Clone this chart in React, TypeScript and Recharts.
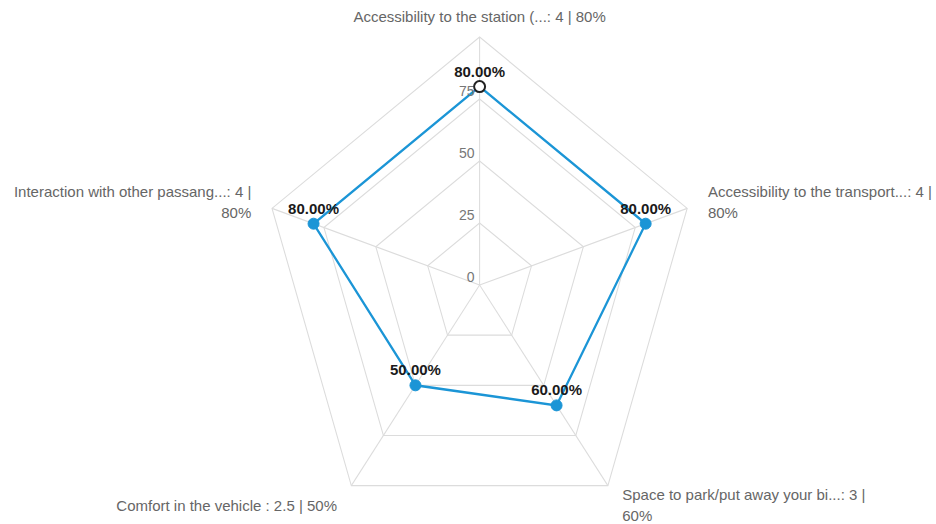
import { RadarChart, PolarGrid, PolarAngleAxis, PolarRadiusAxis, Radar } from 'recharts';

// labels are already cut short in the source chart
const categories = [
  'Accessibility to the station (...',
  'Accessibility to the transport...',
  'Space to park/put away your bi...',
  'Comfort in the vehicle ',
  'Interaction with other passang...',
];
const scores = [4, 4, 3, 2.5, 4];
const percents = [80, 80, 60, 50, 80];
const radialTicks = [0, 25, 50, 75, 100];

// the reference radar is squeezed horizontally, text is not
const SX = 0.88;
const W = 936;
const H = 524;
const FONT = '"Liberation Sans", Arial, sans-serif';
const BLUE = '#1b95d6';

const data = categories.map((name, i) => ({
  name,
  score: scores[i],
  pct: percents[i],
}));

function AngleTick(props: any) {
  const { x, y, cy, textAnchor, index } = props;
  const name = categories[index];
  const full = `${name}: ${scores[index]} | ${percents[index]}%`;
  const lines =
    textAnchor === 'middle' || full.length <= 36
      ? [full]
      : [`${name}: ${scores[index]} |`, `${percents[index]}%`];
  const dx = textAnchor === 'start' ? 4 : textAnchor === 'end' ? -4 : 0;
  const lh = 21;
  const shift = cy != null && y > cy + 50 ? 4 : 0;
  const top = -((lines.length - 1) * lh) / 2 + shift;
  return (
    <g transform={`translate(${x},${y}) scale(${1 / SX},1)`}>
      {lines.map((l, i) => (
        <text
          key={i}
          x={dx}
          y={top + i * lh + 5}
          textAnchor={textAnchor}
          fontSize={15}
          fontFamily={FONT}
          fill="#666"
        >
          {l}
        </text>
      ))}
    </g>
  );
}

function RadiusTick(props: any) {
  const { x, y, payload } = props;
  if (payload.value >= 100) return <g />;
  return (
    <g transform={`translate(${x},${y}) scale(${1 / SX},1)`}>
      <text x={-5} y={-3} textAnchor="end" fontSize={14} fontFamily={FONT} fill="#777">
        {payload.value}
      </text>
    </g>
  );
}

function Dot(props: any) {
  const { cx, cy, index, payload } = props;
  const pct = payload?.pct ?? payload?.payload?.pct ?? props.value;
  const hover = index === 0;
  return (
    <g key={`dot-${index}`} transform={`translate(${cx},${cy}) scale(${1 / SX},1)`}>
      <circle
        r={5.5}
        fill={hover ? '#fff' : BLUE}
        stroke={hover ? '#222' : BLUE}
        strokeWidth={hover ? 2 : 1}
      />
      <text
        y={-10}
        textAnchor="middle"
        fontSize={15}
        fontWeight="bold"
        fontFamily={FONT}
        fill="#1a1a1a"
      >
        {`${Number(pct).toFixed(2)}%`}
      </text>
    </g>
  );
}

export default function App() {
  return (
    <div
      style={{
        position: 'absolute',
        left: 0,
        top: 0,
        width: W,
        height: H,
        overflow: 'hidden',
        background: '#fff',
      }}
    >
      <div style={{ transform: `scaleX(${SX})`, transformOrigin: '0 0', width: W / SX, height: H }}>
        <RadarChart
          width={Math.round(W / SX)}
          height={H}
          data={data}
          cx={545}
          cy={285}
          outerRadius={248}
          margin={{ top: 0, right: 0, bottom: 0, left: 0 }}
        >
          <PolarGrid stroke="#dcdcdc" strokeWidth={1.2} vectorEffect="non-scaling-stroke" />
          <PolarAngleAxis
            dataKey="name"
            tickSize={20}
            tickLine={false}
            axisLine={false}
            tick={(p: any) => <AngleTick {...p} cy={285} />}
          />
          <PolarRadiusAxis
            angle={90}
            domain={[0, 100]}
            ticks={radialTicks}
            tickCount={5}
            axisLine={false}
            tickLine={false}
            tick={(p: any) => <RadiusTick {...p} />}
          />
          <Radar
            dataKey="pct"
            stroke={BLUE}
            strokeWidth={2.5}
            fill="none"
            fillOpacity={0}
            dot={(p: any) => <Dot {...p} />}
            isAnimationActive={false}
          />
        </RadarChart>
      </div>
    </div>
  );
}
